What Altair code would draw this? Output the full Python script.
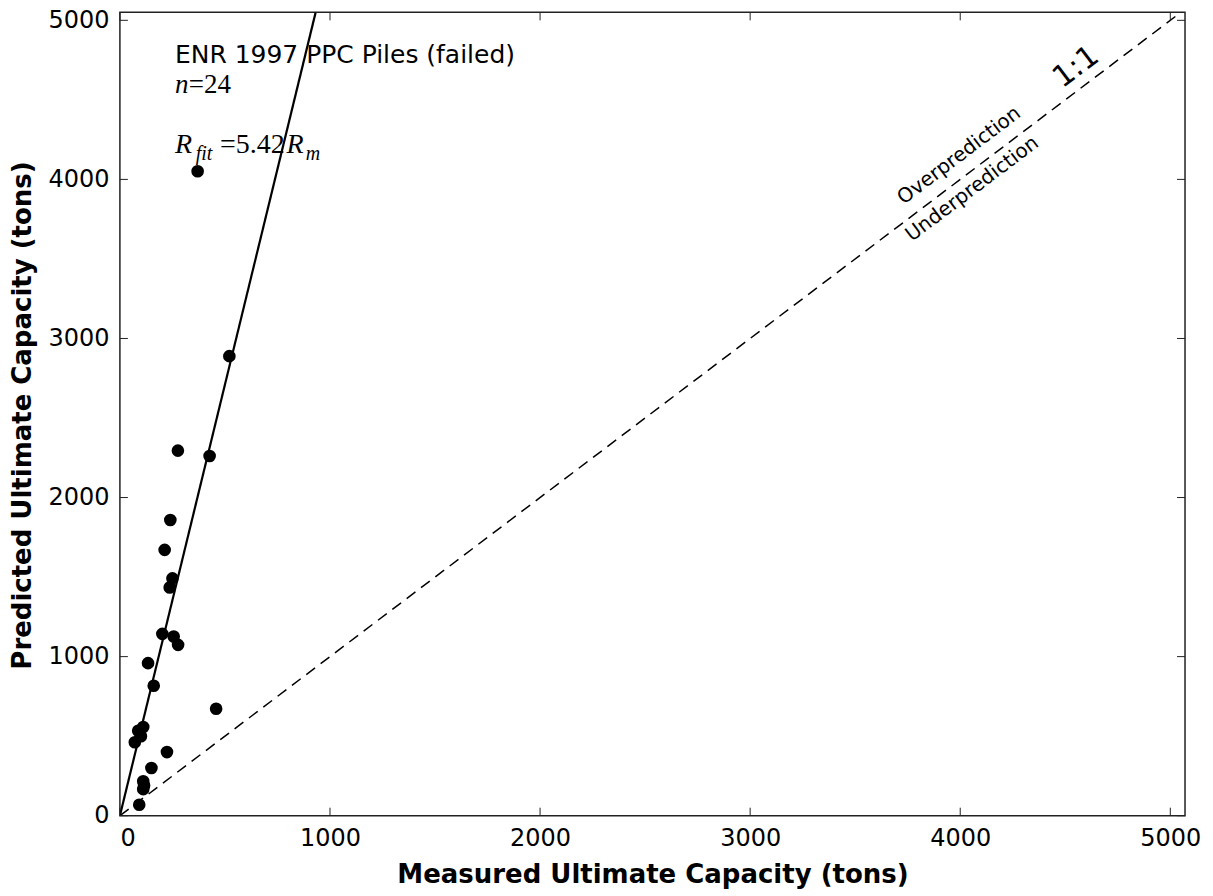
import altair as alt
import pandas as pd

# ---- data ----
measured = [370, 521, 276, 427, 240, 213, 250, 237, 202, 256, 277, 134,
            161, 458, 111, 87, 100, 71, 224, 150, 111, 115, 111, 92]
predicted = [4051, 2889, 2295, 2261, 1859, 1671, 1492, 1435, 1143, 1126, 1074, 959,
             817, 672, 557, 534, 500, 462, 400, 300, 216, 190, 167, 69]

tick_values = [0, 1000, 2000, 3000, 4000, 5000]
x_max = 5070
y_max = 5050

fit_slope = 5.42
fit_x = [0, y_max / fit_slope]
fit_y = [0, y_max]

one_to_one_x = [0, x_max]
one_to_one_y = [0, x_max]

W, H = 1066, 804

pts = pd.DataFrame({"x": measured, "y": predicted})
fit = pd.DataFrame({"x": fit_x, "y": fit_y})
diag = pd.DataFrame({"x": one_to_one_x, "y": one_to_one_y})
ticks = pd.DataFrame({"t": tick_values})

xs = alt.Scale(domain=[0, x_max], nice=False, zero=False)
ys = alt.Scale(domain=[0, y_max], nice=False, zero=False)

X = alt.X("x:Q", scale=xs, axis=alt.Axis(
    title="Measured Ultimate Capacity (tons)", values=tick_values, format="d",
    titleBaseline="alphabetic", titleY=67))
Y = alt.Y("y:Q", scale=ys, axis=alt.Axis(
    title="Predicted Ultimate Capacity (tons)", values=tick_values, format="d",
    titleX=-97, titleY=H / 2 + 1, titleAngle=270, titleBaseline="middle", titleAlign="center"))

dashed = alt.Chart(diag).mark_line(color="black", strokeWidth=1.5, strokeDash=[11, 7], clip=True).encode(x=X, y=Y)
fitline = alt.Chart(fit).mark_line(color="black", strokeWidth=2.2, clip=True).encode(x=X, y=Y)
points = alt.Chart(pts).mark_circle(color="black", size=160, opacity=1).encode(x=X, y=Y)

tx = alt.X("t:Q", scale=xs)
ty = alt.Y("t:Q", scale=ys)
tick_bottom = alt.Chart(ticks).mark_rule(color="#222", strokeWidth=1).encode(x=tx, y=alt.value(H), y2=alt.value(H - 8))
tick_top = alt.Chart(ticks).mark_rule(color="#222", strokeWidth=1).encode(x=tx, y=alt.value(0), y2=alt.value(8))
tick_left = alt.Chart(ticks).mark_rule(color="#222", strokeWidth=1).encode(y=ty, x=alt.value(0), x2=alt.value(8))
tick_right = alt.Chart(ticks).mark_rule(color="#222", strokeWidth=1).encode(y=ty, x=alt.value(W), x2=alt.value(W - 8))

# ---- annotations ----
def txt(df, **kw):
    return alt.Chart(pd.DataFrame(df)).mark_text(color="black", **kw).encode(
        x=alt.X("x:Q", scale=xs), y=alt.Y("y:Q", scale=ys), text="label:N")

title_txt = txt({"x": [262], "y": [4731], "label": ["ENR 1997 PPC Piles (failed)"]},
                font="DejaVu Sans", fontSize=25, align="left", baseline="alphabetic")
n_it = txt({"x": [262], "y": [4542], "label": ["n"]},
           font="Liberation Serif", fontSize=27, fontStyle="italic", align="left", baseline="alphabetic")
n_rm = txt({"x": [328], "y": [4542], "label": ["=24"]},
           font="Liberation Serif", fontSize=27, align="left", baseline="alphabetic")
r_it = txt({"x": [262, 793], "y": [4165, 4165], "label": ["R", "R"]},
           font="Liberation Serif", fontSize=28, fontStyle="italic", align="left", baseline="alphabetic")
r_sub = txt({"x": [361, 885], "y": [4121, 4121], "label": ["fit", "m"]},
            font="Liberation Serif", fontSize=20, fontStyle="italic", align="left", baseline="alphabetic")
r_rm = txt({"x": [476], "y": [4165], "label": ["=5.42"]},
           font="Liberation Serif", fontSize=28, align="left", baseline="alphabetic")

ang = 323
lab11 = txt({"x": [4551], "y": [4706], "label": ["1:1"]},
            font="DejaVu Sans", fontSize=30, angle=ang, align="center", baseline="middle")
labov = txt({"x": [3995, 4057], "y": [4150, 3940], "label": ["Overprediction", "Underprediction"]},
            font="DejaVu Sans", fontSize=20, angle=ang, align="center", baseline="middle")

chart = alt.layer(
    dashed, fitline, points,
    tick_bottom, tick_top, tick_left, tick_right,
    title_txt, n_it, n_rm, r_it, r_sub, r_rm, lab11, labov
).properties(
    width=W, height=H,
    autosize=alt.AutoSizeParams(type="none"),
    padding={"left": 112, "top": 4, "right": 20, "bottom": 80},
    background="white",
).configure_view(
    stroke="#222", strokeWidth=1.5
).configure_axis(
    grid=False, domain=False, ticks=False,
    labelFont="DejaVu Sans", labelFontSize=24, labelColor="black", labelPadding=11,
    titleFont="DejaVu Sans", titleFontSize=26, titleFontWeight="bold", titleColor="black",
)

chart.save("out.html", embed_options={"renderer": "svg", "actions": False})
